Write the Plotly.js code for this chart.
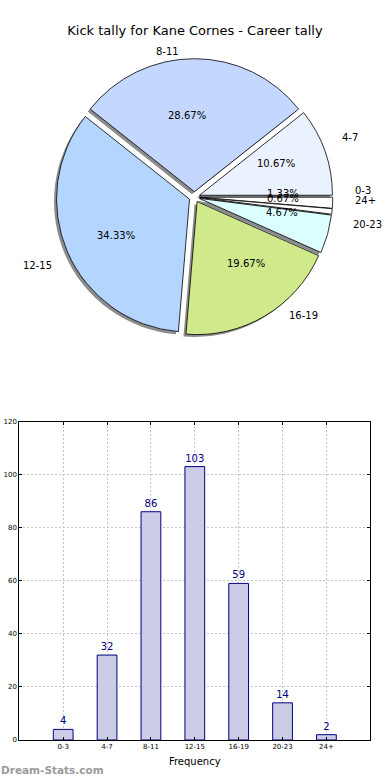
<!DOCTYPE html>
<html>
<head>
<meta charset="utf-8">
<script src="https://cdn.plot.ly/plotly-3.0.1.min.js"></script>
<style>html,body{margin:0;padding:0;background:#fff;}#chart{width:390px;height:780px;}</style>
</head>
<body>
<div id="chart"></div>
<script>
// ---- data ----
var categories = ["0-3", "4-7", "8-11", "12-15", "16-19", "20-23", "24+"];
var kickCounts = [4, 32, 86, 103, 59, 14, 2];
var sliceColors = ["#ffffff", "#eaf1ff", "#c4d8ff", "#b4d5fe", "#d0ea8b", "#dbffff", "#ffffff"];
var yTickValues = [0, 20, 40, 60, 80, 100, 120];
var chartTitle = "Kick tally for Kane Cornes - Career tally";

// ---- geometry (pixels) ----
var W = 390, H = 780;
var cx = 194.4, cy = 197;
var R = 133;
var pull = 0.04;
var labRx = 140, labRy = 128;
var pullPx = 5;

function px2x(p){ return p / W; }
function px2y(p){ return 1 - p / H; }

var half = R * (1 + pull);
var pieDomX = [px2x(cx - half), px2x(cx + half)];
var pieDomY = [px2y(cy + half), px2y(cy - half)];
var sh = 2.5;
var shadowDomX = [pieDomX[0] - sh / W, pieDomX[1] - sh / W];
var shadowDomY = [pieDomY[0] - sh / H, pieDomY[1] - sh / H];

var total = kickCounts.reduce(function(a,b){return a+b;}, 0);
var pulls = kickCounts.map(function(){ return pull; });

var annotations = [];
var start = 0;
kickCounts.forEach(function(v, i){
  var span = 360 * v / total;
  var mid = (start + span / 2) * Math.PI / 180;
  start += span;
  var c = Math.cos(mid), s = Math.sin(mid);
  var ax = cx + pullPx * c, ay = cy - pullPx * s;
  var lx = ax + 1.1 * labRx * c, ly = ay - 1.1 * labRy * s;
  annotations.push({
    x: px2x(lx), y: px2y(ly), xref: "paper", yref: "paper",
    text: categories[i], showarrow: false,
    xanchor: c >= 0 ? "left" : "right", yanchor: "middle",
    font: {family: "DejaVu Sans", size: 10, color: "#000"}
  });
  var tx = ax + 0.6 * labRx * c, ty = ay - 0.6 * labRy * s;
  annotations.push({
    x: px2x(tx), y: px2y(ty), xref: "paper", yref: "paper",
    text: (100 * v / total).toFixed(2) + "%", showarrow: false,
    xanchor: "center", yanchor: "middle",
    font: {family: "DejaVu Sans", size: 10, color: "#000"}
  });
});

annotations.push({
  x: px2x(-1), y: px2y(770), xref: "paper", yref: "paper",
  text: "<b>Dream-Stats.com</b>", showarrow: false,
  xanchor: "left", yanchor: "middle",
  font: {family: "DejaVu Sans", size: 10.5, color: "#9a9a9a"}
});

var shadowTrace = {
  type: "pie", labels: categories, values: kickCounts, sort: false,
  direction: "counterclockwise", rotation: 90, pull: pulls,
  domain: {x: shadowDomX, y: shadowDomY},
  marker: {colors: categories.map(function(){return "#8c8c8c";}), line: {width: 0}},
  textinfo: "none", hoverinfo: "skip", showlegend: false
};

var pieTrace = {
  type: "pie", labels: categories, values: kickCounts, sort: false,
  direction: "counterclockwise", rotation: 90, pull: pulls,
  domain: {x: pieDomX, y: pieDomY},
  marker: {colors: sliceColors, line: {color: "#000", width: 0.8}},
  textinfo: "none", showlegend: false
};

var barTrace = {
  type: "bar", x: categories, y: kickCounts, width: 0.45,
  marker: {color: "#ccccE6", line: {color: "#000080", width: 1}},
  text: kickCounts.map(String), textposition: "outside", cliponaxis: false,
  textfont: {family: "DejaVu Sans", size: 10, color: "#000080"},
  xaxis: "x", yaxis: "y", showlegend: false
};

var layout = {
  width: W, height: H,
  margin: {l: 0, r: 0, t: 0, b: 0},
  paper_bgcolor: "#fff", plot_bgcolor: "#fff",
  showlegend: false,
  title: {
    text: chartTitle, x: 0.5, xanchor: "center", y: px2y(30), yref: "container", yanchor: "middle",
    font: {family: "DejaVu Sans", size: 13, color: "#000"}
  },
  xaxis: {
    domain: [px2x(19.3), px2x(370.3)], anchor: "y",
    type: "category", range: [-1, 7],
    showline: true, linecolor: "#000", linewidth: 1, mirror: "ticks",
    ticks: "inside", ticklen: 3, tickcolor: "#000",
    showgrid: true, gridcolor: "#c4c4c4", griddash: "2px,2px", gridwidth: 1,
    tickfont: {family: "DejaVu Sans", size: 7, color: "#000"},
    title: {text: "Frequency", font: {family: "DejaVu Sans", size: 10, color: "#000"}, standoff: 7},
    zeroline: false, fixedrange: true
  },
  yaxis: {
    domain: [px2y(740), px2y(421.5)], anchor: "x",
    range: [0, 120], tickvals: yTickValues,
    showline: true, linecolor: "#000", linewidth: 1, mirror: "ticks",
    ticks: "inside", ticklen: 3, tickcolor: "#000",
    showgrid: true, gridcolor: "#c4c4c4", griddash: "2px,2px", gridwidth: 1,
    tickfont: {family: "DejaVu Sans", size: 7, color: "#000"},
    zeroline: false, fixedrange: true
  },
  annotations: annotations
};

Plotly.newPlot("chart", [shadowTrace, pieTrace, barTrace], layout, {displayModeBar: false, staticPlot: true});
</script>
</body>
</html>
